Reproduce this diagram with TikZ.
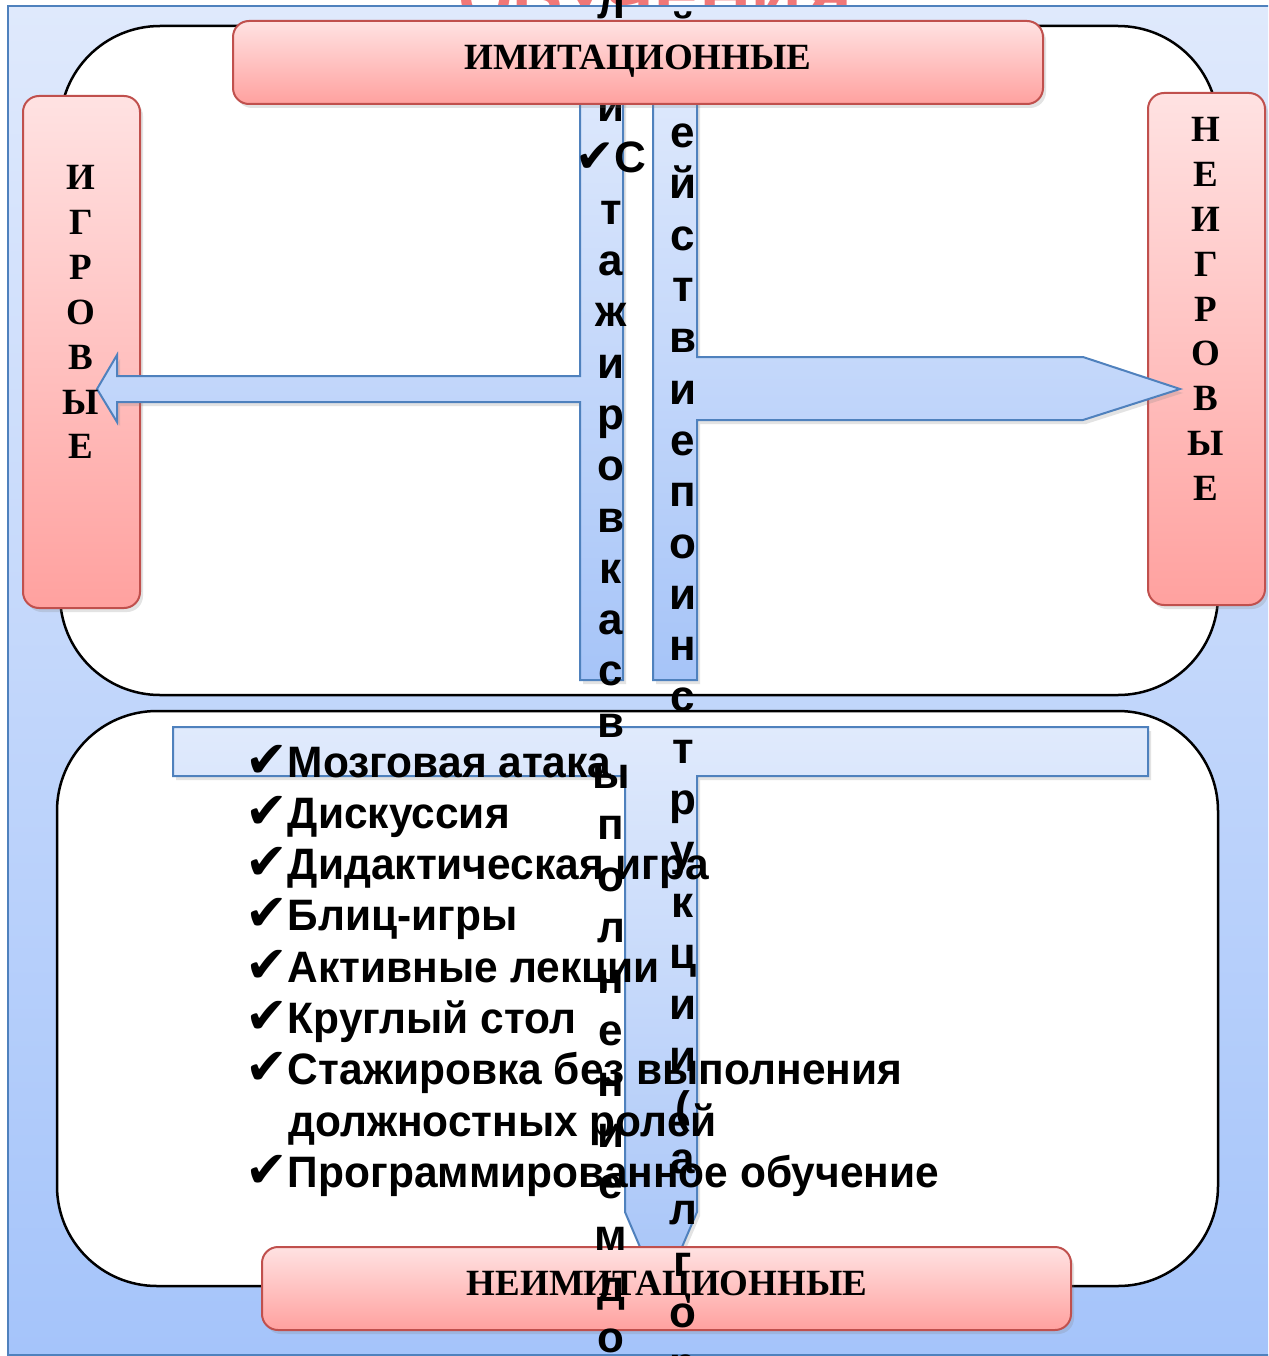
\documentclass[tikz,border=0pt]{standalone}
\usepackage{fontspec}
\setmainfont{Liberation Serif}
\newfontfamily\sansfont{Liberation Sans}
\newfontfamily\narrowfont{Liberation Sans}[FakeStretch=0.965]
\newfontfamily\symfont{DejaVu Sans}
\usetikzlibrary{shadows}
\definecolor{bgtop}{HTML}{DFE9FC}
\definecolor{bgbot}{HTML}{A5C4FA}
\definecolor{bord}{HTML}{4F81BD}
\definecolor{pinktop}{HTML}{FFE2E2}
\definecolor{pinkbot}{HTML}{FFA19F}
\definecolor{pinkbord}{HTML}{C0504D}
\definecolor{bluetop}{HTML}{E0EAFC}
\definecolor{bluebot}{HTML}{A6C4F8}
\definecolor{titlered}{HTML}{F07777}
\newcommand{\chk}{{\symfont\fontsize{51}{51}\selectfont ✔}}
\newcommand{\chkc}{{\symfont\fontsize{47}{51}\selectfont ✔}}
\newcommand{\lparen}{(}
\tikzset{
  softshadow/.style={drop shadow={opacity=0.22, shadow xshift=3pt, shadow yshift=-4pt}},
  pinkbox/.style={rectangle, rounded corners=16pt, draw=pinkbord, line width=2pt,
    top color=pinktop, bottom color=pinkbot, softshadow, inner sep=0},
  blueshape/.style={draw=bord, line width=2pt, top color=bluetop, bottom color=bluebot, softshadow},
  whitepanel/.style={draw=black, line width=2.5pt, fill=white, rounded corners=100pt},
  pinklabel/.style={font=\bfseries\fontsize{37}{45}\selectfont, inner sep=0, anchor=base},
  colletter/.style={font=\sansfont\bfseries\fontsize{44}{51.3}\selectfont, inner sep=0, anchor=base},
  itemtext/.style={font=\narrowfont\bfseries\fontsize{44}{51.3}\selectfont, inner sep=0, anchor=base west},
}
\begin{document}
\begin{tikzpicture}[x=1pt, y=-1pt]
\clip (0,0) rectangle (1268,1356);
\fill[white] (0,0) rectangle (1268,1356);
% cut-off title behind the background
\node[font=\sansfont\bfseries\fontsize{70}{80}\selectfont, text=titlered, inner sep=0, anchor=base] (title) at (655,22) {ОБУЧЕНИЯ};
% background
\path[draw=bord, line width=2pt, top color=bgtop, bottom color=bgbot] (8,6) rectangle (1280,1355);
% white panels
\path[whitepanel] (60,26) rectangle (1218,695);
\path[whitepanel] (57,711) rectangle (1218,1286);
% side pink boxes
\node[pinkbox, minimum width=117pt, minimum height=512pt] (igr) at (81.5,352) {};
\node[pinkbox, minimum width=117pt, minimum height=512pt] (neigr) at (1206.5,349) {};
% blue shapes
\path[blueshape] (580,60) -- (623,60) -- (623,680) -- (580,680) -- (580,402) -- (117,402) -- (117,422)
  -- (97,389) -- (117,355) -- (117,376) -- (580,376) -- cycle;
\path[blueshape] (653,60) -- (697,60) -- (697,357) -- (1083,357) -- (1180,389) -- (1083,420)
  -- (697,420) -- (697,680) -- (653,680) -- cycle;
\path[blueshape] (173,727) -- (1148,727) -- (1148,776) -- (697,776) -- (697,1212) -- (661,1296)
  -- (625,1212) -- (625,776) -- (173,776) -- cycle;
% bottom pink box
\node[pinkbox, minimum width=809pt, minimum height=83pt] (neimit) at (666.5,1288.5) {};
\node[pinklabel] (neimitlbl) at (667,1295) {НЕИМИТАЦИОННЫЕ};
% side labels
\foreach \ch [count=\i from 0] in {И,Г,Р,О,В,Ы,Е}
  \node[pinklabel] (igrl\i) at (81,{190+44.8*\i}) {\ch};
\foreach \ch [count=\i from 0] in {Н,Е,И,Г,Р,О,В,Ы,Е}
  \node[pinklabel] (neigrl\i) at (1206,{142+44.75*\i}) {\ch};
% bullet list
\node[itemtext] (b1) at (245,777) {\chk Мозговая атака};
\node[itemtext] (b2) at (245,828.3) {\chk Дискуссия};
\node[itemtext] (b3) at (245,879.6) {\chk Дидактическая игра};
\node[itemtext] (b4) at (245,930.9) {\chk Блиц-игры};
\node[itemtext] (b5) at (245,982.2) {\chk Активные лекции};
\node[itemtext] (b6) at (245,1033.5) {\chk Круглый стол};
\node[itemtext] (b7) at (245,1084.8) {\chk Стажировка без выполнения};
\node[itemtext] (b8) at (288,1136.1) {должностных ролей};
\node[itemtext] (b9) at (245,1187.4) {\chk Программированное обучение};
% vertical overflowing columns
\foreach \ch [count=\i from 0] in {л,е,й,{\chkc С},т,а,ж,и,р,о,в,к,а,с,в,ы,п,о,л,н,е,н,и,е,м,д,о}
  \node[colletter] (lc\i) at (611,{19+51.3*\i}) {\ch};
\foreach \ch [count=\i from 0] in {й,Д,е,й,с,т,в,и,е,п,о,и,н,с,т,р,у,к,ц,и,и,{\lparen},а,л,г,о,р}
  \node[colletter] (rc\i) at (683,{45+51.3*\i}) {\ch};
% top pink box
\node[pinkbox, minimum width=810pt, minimum height=83pt] (imit) at (638,62.5) {};
\node[pinklabel] (imitlbl) at (638,70) {ИМИТАЦИОННЫЕ};
\end{tikzpicture}
\end{document}
